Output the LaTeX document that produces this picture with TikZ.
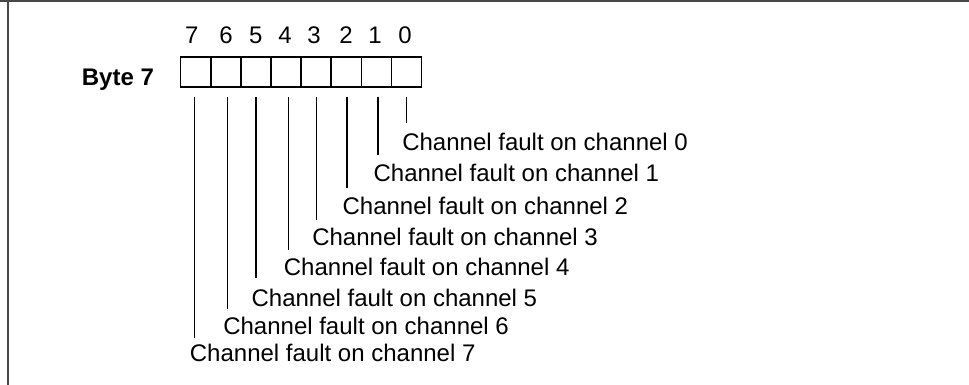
\documentclass[tikz,border=0pt]{standalone}
\usepackage{fontspec}
\setmainfont{Liberation Sans}
\begin{document}
\begin{tikzpicture}[x=0.5pt,y=-0.5pt,
  frame/.style={draw=black!72,line width=0.9pt},
  cell/.style={draw,line width=0.7pt,minimum width=15pt,minimum height=15pt,inner sep=0pt,outer sep=0pt},
  lead/.style={line width=0.6pt},
  lbl/.style={anchor=base west,inner sep=0pt,font=\fontsize{12}{14}\selectfont},
  dig/.style={anchor=base,inner sep=0pt,font=\fontsize{12}{14}\selectfont}]
\useasboundingbox (0,0) rectangle (969,385);
% frame
\coordinate (fl) at (8,385);
\coordinate (ftl) at (8,1);
\coordinate (ftr) at (969,1);
\coordinate (ft0) at (0,1);
\draw[frame] (ft0) -- (ftr);
\draw[frame] (ftl) -- (fl);
% byte label
\node[anchor=base west,inner sep=0pt,font=\fontsize{12}{14}\selectfont\bfseries] (byte) at (81.5,86) {Byte 7};
% cells
\foreach \i/\x in {7/195.6,6/225.8,5/255.9,4/286.0,3/316.1,2/346.2,1/376.3,0/406.5}{
  \node[cell] (c\i) at (\x,72) {};
}
% digits
\foreach \i/\x in {7/191.7,6/226,5/255.7,4/285,3/314,2/346,1/375,0/405}{
  \node[dig] (d\i) at (\x,43.5) {\i};
}
% labels and leads
\foreach \i/\x/\e/\b in {0/406.7/123.3/150,1/378/155/181.7,2/347/188/214,3/316.7/220/245,4/288.3/250/275,5/256/277.7/306,6/227.7/309/334,7/194.3/338/361.7}{
  \coordinate (t\i) at (\x,96.7);
  \coordinate (e\i) at (\x,\e);
  \node[lbl] (l\i) at (\x-4.8,\b) {Channel fault on channel \i};
  \draw[lead] (t\i) -- (e\i);
}
\end{tikzpicture}
\end{document}
